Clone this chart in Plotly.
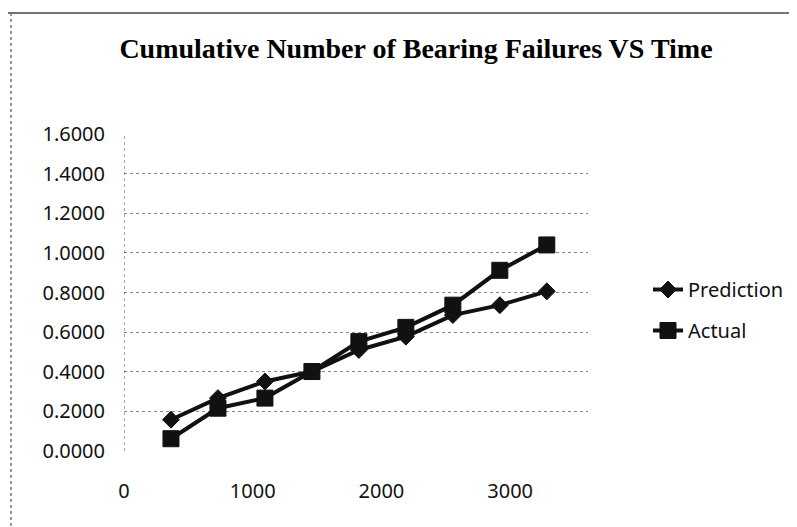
import plotly.graph_objects as go

time_days = [365, 730, 1095, 1460, 1825, 2190, 2555, 2920, 3285]
prediction = [0.158, 0.267, 0.351, 0.401, 0.510, 0.577, 0.686, 0.736, 0.806]
actual = [0.062, 0.216, 0.267, 0.401, 0.552, 0.624, 0.736, 0.912, 1.040]
x_ticks = [0, 1000, 2000, 3000]
y_ticks = [0, 0.2, 0.4, 0.6, 0.8, 1.0, 1.2, 1.4, 1.6]

W, H = 797, 527
L, R, T, B = 116, 217, 126, 84
pw, ph = W - L - R, H - T - B

def px(xp):
    return (xp - L) / pw

def py(yp):
    return (H - B - yp) / ph

fig = go.Figure()
fig.add_trace(go.Scatter(
    x=time_days, y=prediction, name="Prediction", mode="lines+markers",
    line=dict(color="#111111", width=4),
    marker=dict(symbol="diamond", size=13, color="#111111",
                line=dict(color="#111111", width=1)),
    legendgroup="p"))
fig.add_trace(go.Scatter(
    x=time_days, y=actual, name="Actual", mode="lines+markers",
    line=dict(color="#111111", width=4),
    marker=dict(symbol="square", size=16, color="#111111",
                line=dict(color="#111111", width=1)),
    legendgroup="a"))

shapes = [
    # y axis dotted line
    dict(type="line", xref="x", yref="y", x0=0, x1=0, y0=0, y1=1.6,
         line=dict(color="#555555", width=1, dash="dot")),
    # chart border (scan)
    dict(type="line", xref="paper", yref="paper", x0=px(0), x1=px(W),
         y0=py(5), y1=py(5), line=dict(color="#444444", width=1.5)),
    dict(type="line", xref="paper", yref="paper", x0=px(3), x1=px(3),
         y0=py(5), y1=py(521), line=dict(color="#777777", width=1.5, dash="dot")),
    dict(type="line", xref="paper", yref="paper", x0=px(0), x1=px(W),
         y0=py(521), y1=py(521), line=dict(color="#888888", width=1, dash="dot")),
]

fig.update_layout(
    width=W, height=H,
    margin=dict(l=L, r=R, t=T, b=B),
    paper_bgcolor="white", plot_bgcolor="white",
    font=dict(family="Noto Sans", size=20, color="#111111"),
    title=dict(text="<b>Cumulative Number of Bearing Failures VS Time</b>",
               font=dict(family="Liberation Serif", size=28, color="#000000"),
               x=408 / W, xanchor="center", xref="container",
               y=1 - 40 / H, yanchor="middle", yref="container"),
    xaxis=dict(range=[0, 3605], tickvals=x_ticks, ticktext=[str(v) for v in x_ticks],
               showgrid=False, zeroline=False, showline=False, ticks="",
               ticklabelstandoff=26, tickfont=dict(size=20)),
    yaxis=dict(range=[0, 1.6], tickvals=y_ticks, tickformat=".4f",
               showgrid=True, gridcolor="#888888", griddash="dot", gridwidth=1,
               zeroline=False, showline=False, ticks="",
               ticklabelstandoff=18, tickfont=dict(size=20)),
    legend=dict(x=px(640), xanchor="left", y=py(262), yanchor="top",
                traceorder="grouped", tracegroupgap=12,
                font=dict(size=20), bgcolor="rgba(0,0,0,0)"),
    shapes=shapes,
    showlegend=True,
)

fig.write_html("out.html")
